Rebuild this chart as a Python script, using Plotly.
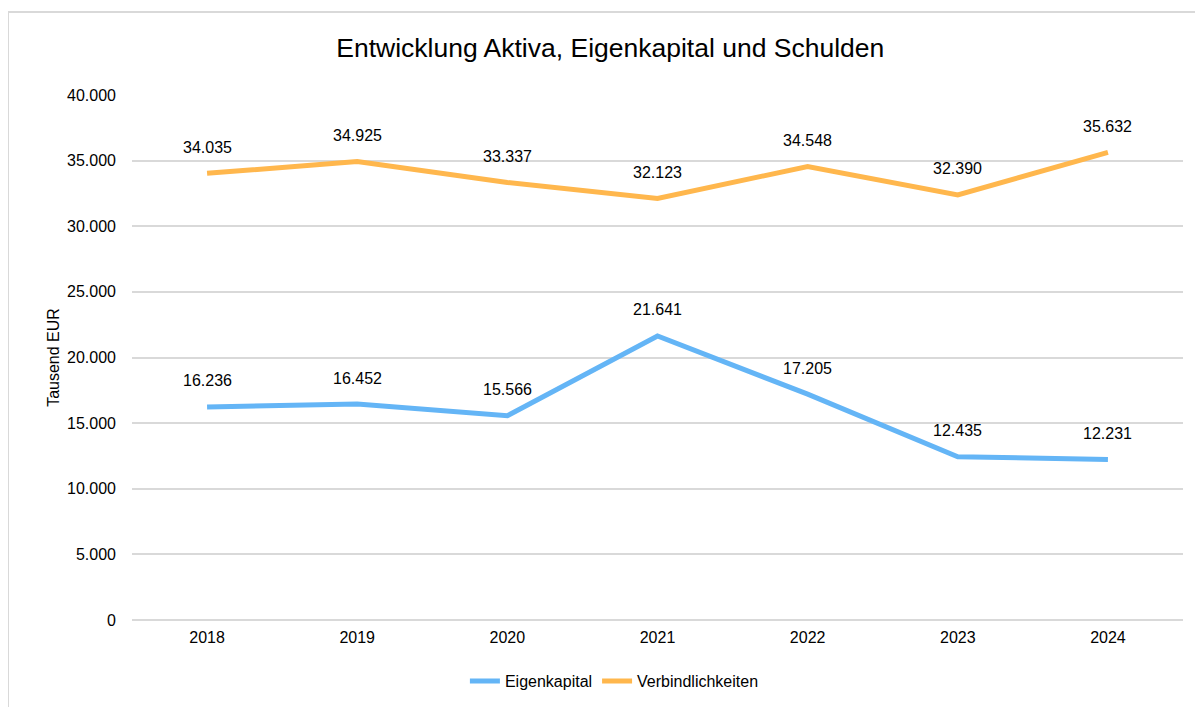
import plotly.graph_objects as go

years = [2018, 2019, 2020, 2021, 2022, 2023, 2024]
eigenkapital = [16236, 16452, 15566, 21641, 17205, 12435, 12231]
verbindlichkeiten = [34035, 34925, 33337, 32123, 34548, 32390, 35632]

BLUE = "#64B5F6"
ORANGE = "#FFB74D"
FONT = "Liberation Sans, Arial, sans-serif"


def de_num(v):
    return f"{v:,}".replace(",", ".")


fig = go.Figure()
for name, vals, color in [
    ("Eigenkapital", eigenkapital, BLUE),
    ("Verbindlichkeiten", verbindlichkeiten, ORANGE),
]:
    fig.add_trace(go.Scatter(
        x=years, y=vals, name=name, mode="lines",
        line=dict(color=color, width=5),
        hoverinfo="skip",
    ))
    for x, v in zip(years, vals):
        fig.add_annotation(
            x=x, y=v, text=de_num(v), showarrow=False,
            yshift=26, font=dict(size=16, color="#000000"),
        )

# Rahmen um das Diagramm (wie im Excel-Export)
fig.add_shape(
    type="rect", xref="paper", yref="paper",
    x0=-0.118, x1=1.2, y0=-0.5, y1=1.158,
    line=dict(color="#D9D9D9", width=2), layer="below",
)

fig.update_layout(
    width=1195, height=699,
    title=dict(
        text="Entwicklung Aktiva, Eigenkapital und Schulden",
        x=0.504, xanchor="center", y=0.943, yanchor="middle",
        font=dict(size=26.5, color="#000000"),
    ),
    font=dict(family=FONT, color="#000000", size=16),
    separators=",.",
    plot_bgcolor="white",
    paper_bgcolor="white",
    margin=dict(l=124, r=20, t=87, b=87),
    showlegend=True,
    legend=dict(
        orientation="h", x=0.459, xanchor="center",
        yref="container", y=0.037, yanchor="middle",
        font=dict(size=16),
    ),
)
fig.update_xaxes(
    range=[2017.5, 2024.5], tickvals=years,
    showgrid=False, showline=False, zeroline=False, ticks="",
    tickfont=dict(size=16), ticklabelstandoff=6,
)
fig.update_yaxes(
    range=[0, 40000], dtick=5000, tickformat=",d",
    showgrid=True, gridcolor="#D9D9D9", gridwidth=2,
    zeroline=True, zerolinecolor="#D9D9D9", zerolinewidth=2,
    showline=False, ticks="",
    tickfont=dict(size=16), ticklabelstandoff=15,
    title=dict(text="Tausend EUR", font=dict(size=16), standoff=3),
)

fig.write_html("out.html")
